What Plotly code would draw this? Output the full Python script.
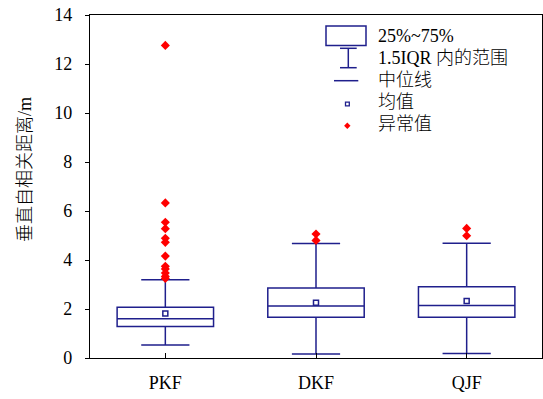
import plotly.graph_objects as go

categories = ["PKF", "DKF", "QJF"]
q1 = [1.29, 1.66, 1.66]
median = [1.60, 2.12, 2.14]
q3 = [2.07, 2.86, 2.91]
lower_fence = [0.53, 0.16, 0.18]
upper_fence = [3.19, 4.67, 4.68]
mean = [1.82, 2.26, 2.33]

outlier_cat = ["PKF"] * 12 + ["DKF"] * 2 + ["QJF"] * 2
outlier_val = [12.76, 6.33, 5.54, 5.28, 4.89, 4.72, 4.16, 3.74, 3.63, 3.47, 3.33, 3.25,
               5.06, 4.80,
               5.29, 4.99]

legend_labels = ["25%~75%", "1.5IQR 内的范围", "中位线", "均值", "异常值"]
y_title = "垂直自相关距离/m"

NAVY = "#1f1f8c"
FONT = "Liberation Serif, Times New Roman, Noto Sans CJK SC, serif"

fig = go.Figure()
fig.add_trace(go.Box(
    x=categories, q1=q1, median=median, q3=q3,
    lowerfence=lower_fence, upperfence=upper_fence,
    boxpoints=False, width=0.64, whiskerwidth=0.5,
    line=dict(color=NAVY, width=1.5), fillcolor="rgba(0,0,0,0)",
    showlegend=False, hoverinfo="skip",
))
fig.add_trace(go.Scatter(
    x=categories, y=mean, mode="markers",
    marker=dict(symbol="square-open", size=5, color=NAVY, line=dict(width=1.5, color=NAVY)),
    showlegend=False,
))
fig.add_trace(go.Scatter(
    x=outlier_cat, y=outlier_val, mode="markers",
    marker=dict(symbol="diamond", size=7, color="#ff0000"),
    showlegend=False,
))

# plot area in pixels
L, R, T, B = 90, 542, 15, 358
W, H = R - L, B - T

def px(x):
    return (x - L) / W

def py(y):
    return (B - y) / H

shapes = []
shapes.append(dict(type="rect", xref="paper", yref="paper",
                   x0=px(326), x1=px(366), y0=py(45.5), y1=py(26),
                   line=dict(color=NAVY, width=1.5)))
shapes.append(dict(type="line", xref="paper", yref="paper",
                   x0=px(348.3), x1=px(348.3), y0=py(48.3), y1=py(67.7),
                   line=dict(color=NAVY, width=1.5)))
shapes.append(dict(type="line", xref="paper", yref="paper",
                   x0=px(340), x1=px(356.7), y0=py(48.3), y1=py(48.3),
                   line=dict(color=NAVY, width=1.5)))
shapes.append(dict(type="line", xref="paper", yref="paper",
                   x0=px(340), x1=px(356.7), y0=py(67.7), y1=py(67.7),
                   line=dict(color=NAVY, width=1.5)))
shapes.append(dict(type="line", xref="paper", yref="paper",
                   x0=px(334), x1=px(358.3), y0=py(80.7), y1=py(80.7),
                   line=dict(color=NAVY, width=1.5)))
shapes.append(dict(type="rect", xref="paper", yref="paper",
                   x0=px(345.5), x1=px(349.3), y0=py(105.9), y1=py(102.1),
                   line=dict(color=NAVY, width=1.3)))
shapes.append(dict(type="path", xref="paper", yref="paper",
                   path="M {} {} L {} {} L {} {} L {} {} Z".format(
                       px(347.3), py(122.5), px(350.5), py(125.7),
                       px(347.3), py(128.9), px(344.1), py(125.7)),
                   fillcolor="#ff0000", line=dict(color="#ff0000", width=0)))

text_y = [35.7, 58.3, 80, 102.3, 124.3]
annotations = []
for lab, ty in zip(legend_labels, text_y):
    annotations.append(dict(text=lab, xref="paper", yref="paper", x=px(376), y=py(ty),
                            xanchor="left", yanchor="middle", showarrow=False,
                            font=dict(family=FONT, size=18, color="black", weight=300)))
annotations.append(dict(text=y_title, xref="paper", yref="paper", x=px(25), y=py(170),
                        xanchor="center", yanchor="middle", textangle=-90, showarrow=False,
                        font=dict(family=FONT, size=18, color="black", weight=300)))

fig.update_layout(
    width=543, height=399,
    margin=dict(l=L, r=543 - R, t=T, b=399 - B, autoexpand=False),
    plot_bgcolor="white", paper_bgcolor="white",
    font=dict(family=FONT, size=18, color="black"),
    shapes=shapes, annotations=annotations,
    xaxis=dict(
        type="category", categoryorder="array", categoryarray=categories,
        range=[-0.5, 2.5], showgrid=False, zeroline=False, automargin=False,
        showline=True, linecolor="black", linewidth=1.2, mirror=True,
        ticks="inside", ticklen=5, tickcolor="black", tickwidth=1,
        tickfont=dict(family="Liberation Serif", size=18), ticklabelstandoff=8,
    ),
    yaxis=dict(
        range=[0, 14], dtick=2, showgrid=False, zeroline=False, automargin=False,
        showline=True, linecolor="black", linewidth=1.2, mirror=True,
        ticks="outside", ticklen=4, tickcolor="black", tickwidth=1,
        tickfont=dict(family="Liberation Serif", size=18), ticklabelstandoff=9,
    ),
)

fig.write_html("out.html", config={"displayModeBar": False},
               post_script="document.body.style.margin='0';document.body.style.padding='0';")
